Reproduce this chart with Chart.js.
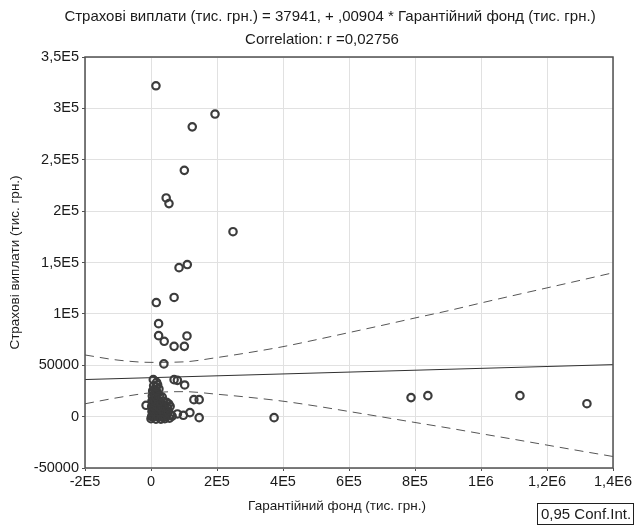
<!DOCTYPE html>
<html>
<head>
<meta charset="utf-8">
<script src="https://cdn.jsdelivr.net/npm/chart.js@4.4.0/dist/chart.umd.min.js"></script>
<style>
  html, body { margin: 0; padding: 0; background: #fff; }
  #wrap { width: 638px; height: 527px; position: relative; }
</style>
</head>
<body>
<div id="wrap"><canvas id="scatter_fund_pay"></canvas></div>
<script>
// points: [Гарантійний фонд, Страхові виплати]
const scatterPoints = [
    [2000, 0], [4000, 1000], [6000, 500], [8000, 2000], [10000, 0], [12000, 1500], [15000, 500],
    [18000, 1000], [20000, 0], [22000, 2000], [25000, 500], [28000, 1000], [30000, 0], [33000, 1500],
    [36000, 500], [40000, 1000], [44000, 0], [48000, 1500],
    [3000, 5000], [7000, 6000], [11000, 4500], [16000, 5500], [21000, 6500], [26000, 5000],
    [31000, 6000], [38000, 5500], [45000, 4000], [52000, 5000],
    [2000, 10000], [6000, 11000], [10000, 9500], [14000, 12000], [19000, 10500], [24000, 9000],
    [29000, 11500], [35000, 10000], [42000, 9000], [50000, 8500], [58000, 10000],
    [3000, 15000], [8000, 16000], [13000, 14500], [18000, 17000], [23000, 15500], [30000, 14000],
    [38000, 15000], [47000, 14000],
    [4000, 20000], [9000, 21000], [14000, 19500], [20000, 22000], [26000, 20000], [34000, 19000],
    [5000, 25000], [11000, 26000], [17000, 24500], [24000, 27000],
    [8000, 30000], [15000, 29000], [20000, 31000],
    [60000, 2000], [64000, 500], [56000, -1500], [42000, -2000], [30000, -2500], [15000, -2500], [0, -2000],
    [-15000, 11000], [53600, 12300], [118000, 3900], [98000, 1300], [80000, 2600], [146000, -1000],
    [130000, 16500], [146000, 16500], [373000, -1000], [7000, 36000], [17000, 33400], [70000, 36000],
    [80000, 35300], [102000, 30800], [788000, 18500], [839000, 20400], [1118000, 20400], [1321000, 12600],
    [39000, 51300], [40000, 73300], [70000, 68400], [101000, 68400], [23000, 78800], [109000, 78500],
    [23000, 90500], [16000, 111000], [70000, 116000], [85000, 145000], [110000, 148000],
    [248500, 180000], [54500, 207300], [46000, 212800], [101000, 239700], [125000, 282000],
    [194000, 294500], [15000, 322000]
];

// regression line ends (title: 37941 + 0.00904 * x)
const fitX = [-200000, 1400000];
const fitY = [36100, 50600];

// 0.95 confidence band
const bandX = [-200000, -100000, 0, 100000, 200000, 300000, 400000, 500000, 600000,
    700000, 800000, 900000, 1000000, 1100000, 1200000, 1300000, 1400000];
const bandUpper = [60000, 55000, 52800, 53300, 57500, 62500, 68100, 74800, 81800,
    88800, 96000, 103000, 110600, 118000, 125300, 132600, 140000];
const bandLower = [12500, 18500, 23200, 24300, 21800, 18700, 15000, 10300, 5000,
    -300, -5700, -11000, -16600, -22100, -27700, -33300, -38800];

const xTickVals = [-200000, 0, 200000, 400000, 600000, 800000, 1000000, 1200000, 1400000];
const xTickLabels = ['-2E5', '0', '2E5', '4E5', '6E5', '8E5', '1E6', '1,2E6', '1,4E6'];
const yTickVals = [-50000, 0, 50000, 100000, 150000, 200000, 250000, 300000, 350000];
const yTickLabels = ['-50000', '0', '50000', '1E5', '1,5E5', '2E5', '2,5E5', '3E5', '3,5E5'];

const titleLines = ['Страхові виплати (тис. грн.) = 37941, + ,00904 * Гарантійний фонд (тис. грн.)',
    'Correlation: r =0,02756'];
const xTitle = 'Гарантійний фонд (тис. грн.)';
const yTitle = 'Страхові виплати (тис. грн.)';
const legendText = '0,95 Conf.Int.';

function toXY(xs, ys) {
    return xs.map((x, i) => ({ x: x, y: ys[i] }));
}

const FONT = '"Liberation Sans", Arial, sans-serif';
const inkColor = '#3c3c3c';
const textColor = '#1a1a1a';

// frame round the plot, titles, the conf. int. box
const framePlugin = {
    id: 'framePlugin',
    afterDraw(chart) {
        const { ctx, chartArea } = chart;
        ctx.save();
        ctx.strokeStyle = '#505050';
        ctx.lineWidth = 1.5;
        ctx.strokeRect(chartArea.left, chartArea.top,
            chartArea.right - chartArea.left, chartArea.bottom - chartArea.top);

        ctx.fillStyle = textColor;
        ctx.textBaseline = 'middle';
        ctx.textAlign = 'center';
        ctx.font = '15px ' + FONT;
        ctx.fillText(titleLines[0], 330, 17);
        ctx.fillText(titleLines[1], 322, 40);

        ctx.font = '13.5px ' + FONT;
        ctx.fillText(xTitle, 337, 506);

        // legend box
        ctx.lineWidth = 1;
        ctx.strokeStyle = '#202020';
        ctx.strokeRect(537.5, 503.5, 96, 21);
        ctx.font = '15px ' + FONT;
        ctx.textAlign = 'left';
        ctx.fillText(legendText, 541, 514.5);
        ctx.restore();
    }
};

const ctx = document.getElementById('scatter_fund_pay').getContext('2d');

const chart = new Chart(ctx, {
    type: 'scatter',
    data: {
        datasets: [
            {
                label: 'Страхові виплати',
                data: scatterPoints.map(p => ({ x: p[0], y: p[1] })),
                pointStyle: 'circle',
                pointRadius: 3.7,
                pointBorderWidth: 2.2,
                borderColor: inkColor,
                backgroundColor: 'rgba(0,0,0,0)',
            },
            {
                type: 'line',
                label: 'fit',
                data: toXY(fitX, fitY),
                borderColor: '#303030',
                borderWidth: 1,
                pointRadius: 0,
            },
            {
                type: 'line',
                label: 'upper',
                data: toXY(bandX, bandUpper),
                borderColor: '#555555',
                borderWidth: 1,
                borderDash: [9, 6],
                pointRadius: 0,
                cubicInterpolationMode: 'monotone',
            },
            {
                type: 'line',
                label: 'lower',
                data: toXY(bandX, bandLower),
                borderColor: '#555555',
                borderWidth: 1,
                borderDash: [9, 6],
                pointRadius: 0,
                cubicInterpolationMode: 'monotone',
            },
        ],
    },
    options: {
        responsive: true,
        maintainAspectRatio: false,
        animation: false,
        layout: { padding: { left: 4, right: 25, top: 57, bottom: 0 } },
        scales: {
            x: {
                type: 'linear',
                min: -200000,
                max: 1400000,
                afterBuildTicks: axis => { axis.ticks = xTickVals.map(v => ({ value: v })); },
                afterFit: axis => { axis.height = 59; },
                ticks: {
                    color: textColor,
                    font: { family: FONT, size: 14.5 },
                    padding: 2,
                    maxRotation: 0,
                    callback: (v, i) => xTickLabels[i],
                },
                grid: { color: '#e1e1e1', lineWidth: 1, tickLength: 3, tickColor: '#505050' },
                border: { display: false },
            },
            y: {
                type: 'linear',
                min: -50000,
                max: 350000,
                afterBuildTicks: axis => { axis.ticks = yTickVals.map(v => ({ value: v })); },
                afterFit: axis => { axis.width = 81; },
                ticks: {
                    color: textColor,
                    font: { family: FONT, size: 14.5 },
                    padding: 3,
                    callback: (v, i) => yTickLabels[i],
                },
                grid: { color: '#e1e1e1', lineWidth: 1, tickLength: 3, tickColor: '#505050' },
                border: { display: false },
                title: {
                    display: true,
                    text: yTitle,
                    color: textColor,
                    font: { family: FONT, size: 13.5 },
                    padding: { top: 3, bottom: 0 },
                },
            },
        },
        plugins: {
            legend: { display: false },
            tooltip: { enabled: false },
            title: { display: false },
        },
    },
    plugins: [framePlugin],
});
</script>
</body>
</html>
